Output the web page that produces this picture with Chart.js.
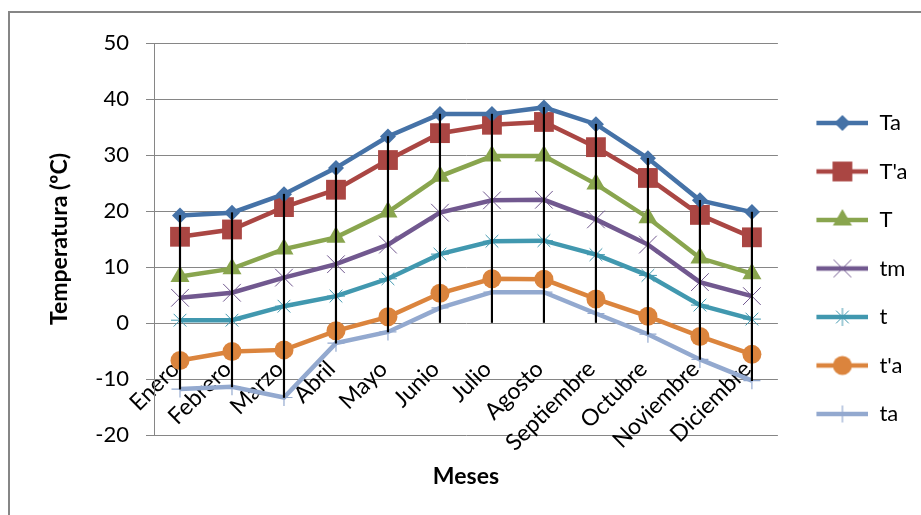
<!DOCTYPE html>
<html>
<head>
<meta charset="utf-8">
<script src="https://cdn.jsdelivr.net/npm/chart.js@4.4.1/dist/chart.umd.min.js"></script>
<style>
  html, body { margin: 0; padding: 0; background: #fff; overflow: hidden; }
  #wrap { position: relative; width: 921px; height: 515px; }
  #frame { position: absolute; left: 8px; top: 11px; width: 1000px; height: 1000px;
           border-left: 2px solid #868686; border-top: 2px solid #868686; }
  #temp-chart { position: absolute; left: 0; top: 0; }
</style>
</head>
<body>
<div id="wrap">
  <div id="frame"></div>
  <canvas id="temp-chart" width="921" height="515"></canvas>
</div>
<script>
// months on the category axis
const months = ['Enero', 'Febrero', 'Marzo', 'Abril', 'Mayo', 'Junio', 'Julio',
                'Agosto', 'Septiembre', 'Octubre', 'Noviembre', 'Diciembre'];

// series values (ºC)
const Ta  = [19.2, 19.7, 23.0, 27.7, 33.3, 37.3, 37.3, 38.5, 35.5, 29.4, 21.9, 19.8];
const Tpa = [15.4, 16.7, 20.7, 23.8, 29.1, 33.9, 35.4, 35.9, 31.4, 25.9, 19.3, 15.3];
const T   = [8.3, 9.7, 13.2, 15.3, 19.8, 26.2, 29.8, 29.8, 24.8, 18.8, 11.6, 8.8];
const tm  = [4.5, 5.4, 8.1, 10.5, 14.0, 19.7, 21.9, 22.0, 18.5, 14.0, 7.3, 4.8];
const t   = [0.5, 0.5, 3.0, 4.8, 7.9, 12.3, 14.6, 14.7, 12.2, 8.5, 3.2, 0.7];
const tpa = [-6.7, -5.1, -4.8, -1.4, 1.1, 5.3, 7.9, 7.8, 4.3, 1.2, -2.4, -5.6];
const ta  = [-11.8, -11.4, -13.3, -3.6, -1.6, 2.7, 5.5, 5.5, 1.7, -2.0, -6.5, -10.3];

// y axis ticks
const yMin = -20;
const yMax = 50;
const yStep = 10;

const series = [
    { name: 'Ta',  data: Ta,  color: '#4572A7', style: 'rectRot',  radius: 8,    bw: 0 },
    { name: "T'a", data: Tpa, color: '#AA4643', style: 'rect',     radius: 14,   bw: 0 },
    { name: 'T',   data: T,   color: '#89A54E', style: 'triangle', radius: 11,   bw: 0 },
    { name: 'tm',  data: tm,  color: '#71588F', style: 'crossRot', radius: 12.5, bw: 1 },
    { name: 't',   data: t,   color: '#4198AF', style: 'star',     radius: 9,    bw: 1 },
    { name: "t'a", data: tpa, color: '#DB843D', style: 'circle',   radius: 9.5,  bw: 0 },
    { name: 'ta',  data: ta,  color: '#93A9CF', style: 'cross',    radius: 8.5,  bw: 1.2 }
];

// drop lines: from the highest value down to the lowest one (or to 0)
const dropLines = months.map((m, i) => {
    const vals = series.map(s => s.data[i]);
    return [Math.min(0, ...vals), Math.max(...vals)];
});

function legendIcon(s) {
    const c = document.createElement('canvas');
    c.width = 64;
    c.height = 30;
    const g = c.getContext('2d');
    g.strokeStyle = s.color;
    g.lineWidth = 4.5;
    g.beginPath();
    g.moveTo(12, 15);
    g.lineTo(64, 15);
    g.stroke();
    g.fillStyle = s.color;
    g.strokeStyle = s.color;
    g.lineWidth = s.bw;
    Chart.helpers.drawPoint(g, { pointStyle: s.style, radius: s.radius, rotation: 0, borderWidth: s.bw }, 38, 15);
    return c;
}

function draw() {
    const ctx = document.getElementById('temp-chart').getContext('2d');

    const datasets = series.map(s => ({
        type: 'line',
        label: s.name,
        data: s.data,
        borderColor: s.color,
        backgroundColor: s.color,
        borderWidth: 4.5,
        pointStyle: s.style,
        pointRadius: s.radius,
        pointBorderWidth: s.bw,
        pointBackgroundColor: s.color,
        pointBorderColor: s.color,
        tension: 0,
        fill: false
    }));

    datasets.push({
        type: 'bar',
        label: 'drop',
        data: dropLines,
        backgroundColor: '#000',
        borderWidth: 0,
        barThickness: 1.5,
        order: -1
    });

    new Chart(ctx, {
        type: 'line',
        data: { labels: months, datasets: datasets },
        options: {
            responsive: false,
            devicePixelRatio: 1,
            animation: false,
            layout: { padding: { left: 30, top: 43, right: 3.5, bottom: 21 } },
            plugins: {
                tooltip: { enabled: false },
                legend: {
                    position: 'right',
                    labels: {
                        usePointStyle: true,
                        pointStyleWidth: 64,
                        padding: 26.5,
                        color: '#000',
                        font: { family: 'Lato', size: 22 },
                        generateLabels: function () {
                            return series.map((s, i) => ({
                                text: s.name,
                                pointStyle: legendIcon(s),
                                fillStyle: s.color,
                                strokeStyle: s.color,
                                lineWidth: 0,
                                hidden: false,
                                datasetIndex: i
                            }));
                        }
                    }
                }
            },
            scales: {
                x: {
                    offset: true,
                    grid: { display: false, drawTicks: false },
                    border: { display: false },
                    ticks: {
                        autoSkip: false,
                        minRotation: 45,
                        maxRotation: 45,
                        mirror: true,
                        padding: 60,
                        labelOffset: 15,
                        color: '#000',
                        font: { family: 'Lato', size: 23 }
                    },
                    title: {
                        display: true,
                        text: 'Meses',
                        color: '#000',
                        font: { family: 'Lato', size: 23, weight: 'bold' },
                        padding: { top: 0, bottom: 4 }
                    },
                    afterFit: function (scale) { scale.height = 59; }
                },
                y: {
                    min: yMin,
                    max: yMax,
                    grid: { color: '#868686', lineWidth: 1, tickLength: 8 },
                    border: { color: '#868686', width: 1 },
                    ticks: {
                        stepSize: yStep,
                        padding: 17,
                        color: '#000',
                        font: { family: 'Lato', size: 22 }
                    },
                    title: {
                        display: true,
                        text: 'Temperatura (ºC)',
                        color: '#000',
                        font: { family: 'Lato', size: 23, weight: 'bold' },
                        padding: { top: 16, bottom: 0 }
                    },
                    afterFit: function (scale) { scale.width = 124; }
                }
            }
        }
    });
}

document.addEventListener('DOMContentLoaded', function () {
    Promise.all([
        document.fonts.load('22px Lato'),
        document.fonts.load('23px Lato'),
        document.fonts.load('bold 23px Lato')
    ]).then(draw, draw);
});
</script>
</body>
</html>
